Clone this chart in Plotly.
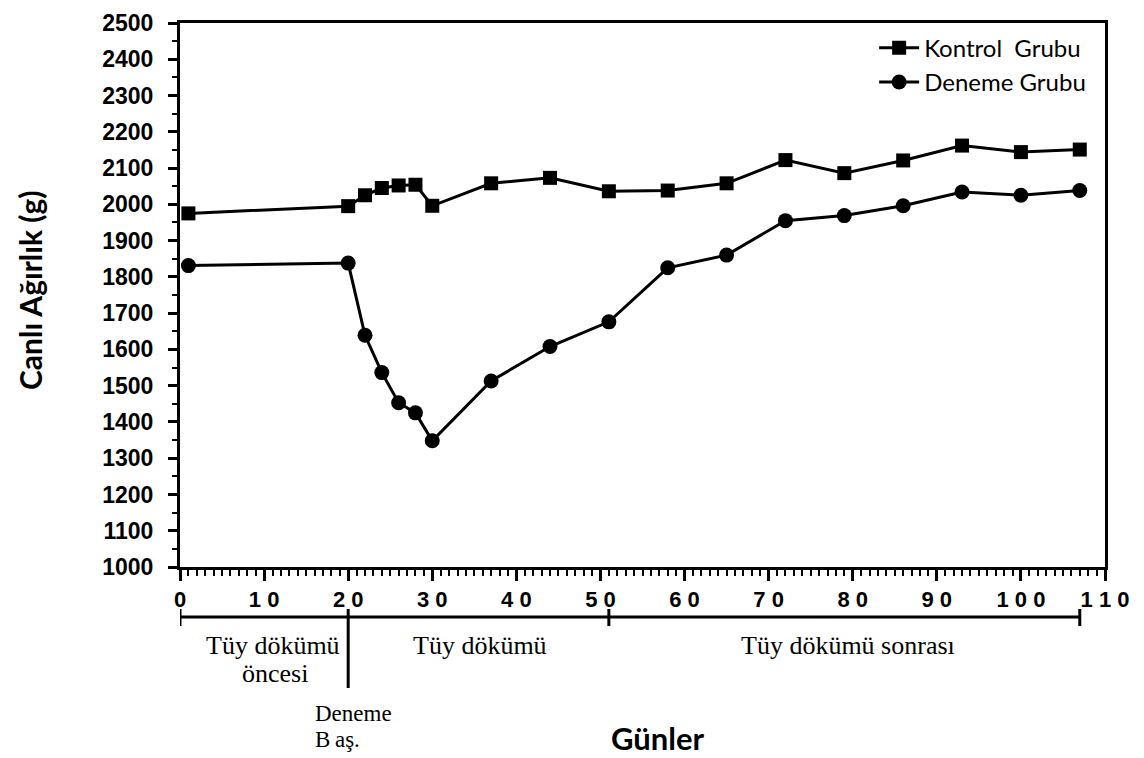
import plotly.graph_objects as go

# ---- data ----
days = [1, 20, 22, 24, 26, 28, 30, 37, 44, 51, 58, 65, 72, 79, 86, 93, 100, 107]
kontrol = [1975, 1995, 2025, 2045, 2052, 2054, 1996, 2058, 2073, 2036, 2038, 2058,
           2122, 2086, 2121, 2162, 2144, 2151]
deneme = [1831, 1838, 1639, 1536, 1453, 1425, 1348, 1513, 1608, 1676, 1825, 1860,
          1955, 1969, 1996, 2034, 2025, 2038]
series_names = ["Kontrol  Grubu", "Deneme Grubu"]
x_ticks = list(range(0, 111, 10))
x_tick_labels = [str(v) for v in x_ticks]
y_ticks = list(range(1000, 2501, 100))
phase_bounds = [0, 20, 51, 107]
phase_labels = ["Tüy dökümü", "öncesi", "Tüy dökümü", "Tüy dökümü sonrası"]

SANS = "Liberation Sans"
ROUND = "Lato"
SERIF = "Liberation Serif"

fig = go.Figure()
fig.add_trace(go.Scatter(
    x=days, y=kontrol, name=series_names[0], mode="lines+markers",
    line=dict(color="black", width=3),
    marker=dict(symbol="square", size=14, color="black"),
    cliponaxis=False))
fig.add_trace(go.Scatter(
    x=days, y=deneme, name=series_names[1], mode="lines+markers",
    line=dict(color="black", width=3),
    marker=dict(symbol="circle", size=15, color="black"),
    cliponaxis=False))

# phase bracket under the x axis
yb = -0.0919
shapes = [dict(type="line", xref="x", yref="paper", x0=phase_bounds[0], x1=phase_bounds[-1],
               y0=yb, y1=yb, line=dict(color="black", width=3))]
for i, b in enumerate(phase_bounds):
    y1 = -0.2224 if i == 1 else -0.1085
    shapes.append(dict(type="line", xref="x", yref="paper", x0=b, x1=b,
                       y0=-0.0772, y1=y1, line=dict(color="black", width=3)))

ann = [
    dict(text=phase_labels[0], x=0.1005, y=-0.1434),
    dict(text=phase_labels[1], x=0.1030, y=-0.1949),
    dict(text=phase_labels[2], x=0.3243, y=-0.1434),
    dict(text=phase_labels[3], x=0.7222, y=-0.1434),
]
annotations = []
for a in ann:
    annotations.append(dict(xref="paper", yref="paper", x=a["x"], y=a["y"], text=a["text"],
                            showarrow=False, xanchor="center", yanchor="middle",
                            font=dict(family=SERIF, size=26, color="black")))
annotations.append(dict(xref="paper", yref="paper", x=0.1438, y=-0.2684, text="Deneme",
                        showarrow=False, xanchor="left", yanchor="middle",
                        font=dict(family=SERIF, size=23, color="black")))
annotations.append(dict(xref="paper", yref="paper", x=0.1438, y=-0.318, text="B\u2009aş.",
                        showarrow=False, xanchor="left", yanchor="middle",
                        font=dict(family=SERIF, size=23, color="black")))
annotations.append(dict(xref="paper", yref="paper", x=0.5157, y=-0.3143, text="<b>Günler</b>",
                        showarrow=False, xanchor="center", yanchor="middle",
                        font=dict(family=ROUND, size=31, color="black")))
annotations.append(dict(xref="paper", yref="paper", x=-0.1622, y=0.509,
                        text="<b>Canlı Ağırlık (g)</b>", textangle=-90,
                        showarrow=False, xanchor="center", yanchor="middle",
                        font=dict(family=ROUND, size=30, color="black")))

# page body adds an 8px offset; the figure is sized so the plot lands on the reference spot
fig.update_layout(
    width=1136, height=750,
    margin=dict(l=172, r=39, t=15, b=191, autoexpand=False),
    paper_bgcolor="white", plot_bgcolor="white",
    showlegend=True,
    legend=dict(x=0.985, y=0.995, xanchor="right", yanchor="top",
                bgcolor="rgba(0,0,0,0)", font=dict(family=ROUND, size=24, color="black"),
                tracegroupgap=0, itemwidth=40),
    shapes=shapes, annotations=annotations,
)
fig.update_xaxes(
    range=[0, 110], tickmode="array", tickvals=x_ticks,
    ticktext=[" ".join(s) for s in x_tick_labels],
    ticks="outside", ticklen=11, tickwidth=3, tickcolor="black",
    minor=dict(dtick=1, ticks="outside", ticklen=6, tickwidth=2, tickcolor="black"),
    showline=True, linewidth=3, linecolor="black", mirror=True,
    showgrid=False, zeroline=False, automargin=False, ticklabeloverflow="allow",
    tickfont=dict(family=SANS, size=22, color="black", weight="bold"),
)
fig.update_yaxes(
    range=[1000, 2500], tickmode="array", tickvals=y_ticks,
    ticks="outside", ticklen=9, tickwidth=3, tickcolor="black",
    minor=dict(dtick=50, ticks="outside", ticklen=5, tickwidth=2, tickcolor="black"),
    showline=True, linewidth=3, linecolor="black", mirror=True,
    showgrid=False, zeroline=False, automargin=False, ticklabeloverflow="allow",
    ticklabelstandoff=10,
    tickfont=dict(family=SANS, size=23, color="black", weight="bold"),
)

fig.write_html("out.html")
